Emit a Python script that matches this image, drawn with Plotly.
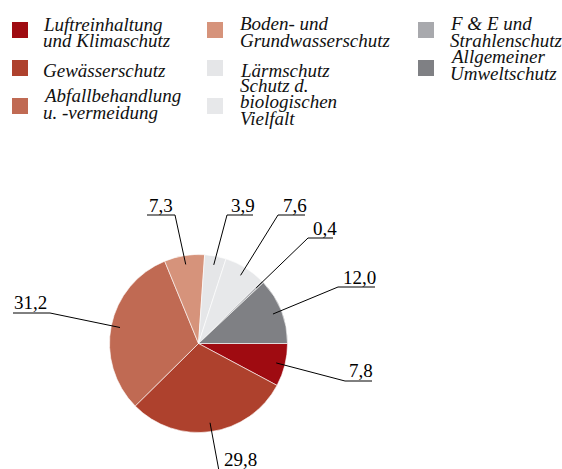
import plotly.graph_objects as go
import math

# ---------------- data ----------------
categories = [
    "Luftreinhaltung<br>und Klimaschutz",
    "Gewässerschutz",
    "Abfallbehandlung<br>u. -vermeidung",
    "Boden- und<br>Grundwasserschutz",
    "Lärmschutz",
    "Schutz d.<br>biologischen<br>Vielfalt",
    "F & E und<br>Strahlenschutz",
    "Allgemeiner<br>Umweltschutz",
]
values = [7.8, 29.8, 31.2, 7.3, 3.9, 7.6, 0.4, 12.0]
colors = ["#9f0b11", "#ae412d", "#c06a53", "#d6937b", "#e5e6e8", "#e7e8ea", "#a8a9ad", "#7f8084"]

# ---------------- layout helpers ----------------
W, H = 562, 469
def PX(x): return x / W
def PY(y): return 1 - y / H

CX, CY, R = 198.5, 343.5, 89.0
SERIF = "Liberation Serif, Times New Roman, serif"

fig = go.Figure()
fig.add_trace(go.Pie(
    labels=[c.replace("<br>", " ") for c in categories],
    values=values,
    marker=dict(colors=colors, line=dict(color="white", width=0.6)),
    sort=False, direction="clockwise", rotation=90,
    textinfo="none", hoverinfo="skip", showlegend=False,
    domain=dict(x=[PX(CX - R), PX(CX + R)], y=[PY(CY + R), PY(CY - R)]),
))

shapes = []
annotations = []

# ---------------- value labels with leader lines ----------------
# (text left x, baseline y, underline x0, underline x1, underline y, attach side)
label_layout = [
    (348, 378, 345, 372, 381, "left"),    # 7,8
    (223, 467, 219, 258, 471, "left"),    # 29,8
    (13, 310, 13, 50, 313, "right"),      # 31,2
    (148, 213, 147, 175, 215, "right"),   # 7,3
    (230, 213, 227, 253, 215, "left"),    # 3,9
    (282, 213, 278, 305, 215, "left"),    # 7,6
    (312, 236, 308, 333, 238, "left"),    # 0,4
    (342, 285, 338, 375, 287, "left"),    # 12,0
]
total = sum(values)
cum = 0.0
for v, (tx, tb, ux0, ux1, uy, side) in zip(values, label_layout):
    mid = (cum + v / 2) / total * 2 * math.pi
    cum += v
    ix = CX + 0.9 * R * math.cos(mid)
    iy = CY + 0.9 * R * math.sin(mid)
    ax = ux0 if side == "left" else ux1
    shapes.append(dict(type="line", xref="paper", yref="paper",
                       x0=PX(ax), y0=PY(uy), x1=PX(ix), y1=PY(iy),
                       line=dict(color="black", width=1)))
    shapes.append(dict(type="line", xref="paper", yref="paper",
                       x0=PX(ux0), y0=PY(uy), x1=PX(ux1), y1=PY(uy),
                       line=dict(color="black", width=1)))
    annotations.append(dict(text=f"{v:.1f}".replace(".", ","), xref="paper", yref="paper",
                            x=PX(tx - 1), y=PY(tb - 8), xanchor="left", yanchor="middle",
                            showarrow=False, font=dict(family=SERIF, size=19, color="black")))

# ---------------- legend (manual, 3 columns) ----------------
# (swatch x, swatch top y, text x, baselines)
legend_layout = [
    (12, 22, 42, [30.7, 46.7]),
    (12, 60, 42, [76]),
    (12, 98, 42, [101.7, 118.3]),
    (207, 22, 239, [29.3, 46]),
    (207, 60, 239, [76]),
    (207, 98, 239, [91.7, 107.3, 124]),
    (418, 22, 449, [29.5, 46]),
    (418, 60, 449, [62.7, 79.3]),
]
for cat, col, (sx, sy, tx, bases) in zip(categories, colors, legend_layout):
    shapes.append(dict(type="rect", xref="paper", yref="paper",
                       x0=PX(sx), x1=PX(sx + 16), y0=PY(sy), y1=PY(sy + 16),
                       fillcolor=col, line=dict(width=0)))
    for line_txt, b in zip(cat.split("<br>"), bases):
        annotations.append(dict(text=line_txt, xref="paper", yref="paper",
                                x=PX(tx - 1), y=PY(b - 6), xanchor="left", yanchor="middle",
                                showarrow=False,
                                font=dict(family=SERIF, size=19, color="#111111", style="italic")))

fig.update_layout(
    width=W, height=H,
    margin=dict(l=0, r=0, t=0, b=0),
    paper_bgcolor="white", plot_bgcolor="white",
    shapes=shapes, annotations=annotations,
    showlegend=False,
)
fig.write_html("out.html", config={"displayModeBar": False},
               post_script="document.body.style.margin='0';document.body.style.padding='0';")
